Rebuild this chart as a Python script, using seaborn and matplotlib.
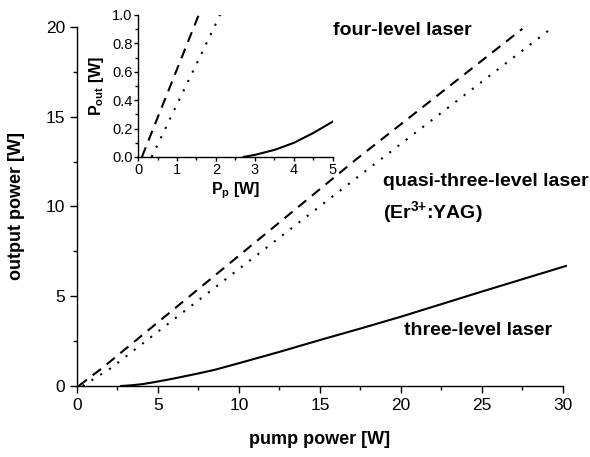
import matplotlib
matplotlib.use('Agg')
import matplotlib.pyplot as plt
import seaborn as sns
import pandas as pd
from matplotlib.ticker import MultipleLocator, FormatStrFormatter

# curves (pump power [W] -> output power [W])
four_x = [0.1, 1.6, 17.2, 27.5]
four_y = [0.0, 1.03, 12.6, 19.9]
quasi_x = [0.35, 2.07, 17.2, 29.4]
quasi_y = [0.0, 0.98, 11.55, 20.0]
three_x = [2.7, 3.0, 3.5, 4.0, 4.5, 5.0, 6.0, 7.5, 8.5, 10.0, 12.5, 15.0, 17.5, 20.0, 25.0, 30.2]
three_y = [0.0, 0.015, 0.05, 0.1, 0.17, 0.25, 0.42, 0.7, 0.9, 1.27, 1.9, 2.56, 3.2, 3.86, 5.26, 6.69]

df = pd.concat([
    pd.DataFrame({'pump': four_x, 'out': four_y, 'laser': 'four'}),
    pd.DataFrame({'pump': quasi_x, 'out': quasi_y, 'laser': 'quasi'}),
    pd.DataFrame({'pump': three_x, 'out': three_y, 'laser': 'three'}),
])

sns.set_theme(style='ticks')
plt.rcParams['font.family'] = ['Liberation Sans', 'DejaVu Sans']
plt.rcParams['mathtext.fontset'] = 'custom'
plt.rcParams['mathtext.rm'] = 'Liberation Sans'
plt.rcParams['mathtext.bf'] = 'Liberation Sans:bold'
plt.rcParams['text.color'] = 'black'
plt.rcParams['axes.labelcolor'] = 'black'

styles = {'four': (0, (5, 3.5)), 'quasi': (0, (1, 4)), 'three': '-'}


def draw(ax):
    for name, ls in styles.items():
        sns.lineplot(data=df[df['laser'] == name], x='pump', y='out', ax=ax,
                     color='black', lw=1.5, linestyle=ls, estimator=None,
                     sort=False, legend=False)
    for s in ['top', 'right']:
        ax.spines[s].set_visible(False)
    for s in ['left', 'bottom']:
        ax.spines[s].set_color('black')
        ax.spines[s].set_linewidth(1.0)
    ax.tick_params(which='both', direction='out', color='black', width=1.0,
                   labelcolor='black')
    ax.tick_params(which='major', length=5)
    ax.tick_params(which='minor', length=3)


fig = plt.figure(figsize=(5.9, 4.57), dpi=100)
ax = fig.add_axes([0.1305, 0.1554, 0.8235, 0.7855])
draw(ax)
ax.set_xlim(0, 30)
ax.set_ylim(0, 20)
ax.xaxis.set_major_locator(MultipleLocator(5))
ax.xaxis.set_minor_locator(MultipleLocator(2.5))
ax.yaxis.set_major_locator(MultipleLocator(5))
ax.yaxis.set_minor_locator(MultipleLocator(2.5))
ax.tick_params(labelsize=12.5)
for l in ax.get_lines():
    l.set_clip_on(False)
ax.set_xlabel('pump power [W]', fontsize=13, fontweight='bold', labelpad=13)
ax.set_ylabel('output power [W]', fontsize=13, fontweight='bold', labelpad=15)

ax.text(15.8, 19.8, 'four-level laser', fontsize=14, fontweight='bold', va='center')
ax.text(18.9, 11.4, 'quasi-three-level laser', fontsize=14, fontweight='bold', va='center')
ax.text(18.9, 9.65, r'(Er$^{\mathbf{3{+}}}$:YAG)', fontsize=14, fontweight='bold', va='center')
ax.text(20.2, 3.07, 'three-level laser', fontsize=14, fontweight='bold', va='center')

# inset
ins = fig.add_axes([0.2339, 0.6565, 0.3305, 0.3107])
draw(ins)
ins.set_xlim(0, 5)
ins.set_ylim(0, 1.0)
ins.xaxis.set_major_locator(MultipleLocator(1))
ins.xaxis.set_minor_locator(MultipleLocator(0.5))
ins.yaxis.set_major_locator(MultipleLocator(0.2))
ins.yaxis.set_minor_locator(MultipleLocator(0.1))
ins.yaxis.set_major_formatter(FormatStrFormatter('%.1f'))
ins.tick_params(labelsize=10.5, pad=1)
ins.tick_params(which='major', length=3)
ins.tick_params(which='minor', length=2)
ins.set_facecolor('none')
ins.set_xlabel(r'P$_{\mathbf{p}}$ [W]', fontsize=11.5, fontweight='bold', labelpad=3)
ins.set_ylabel(r'P$_{\mathbf{out}}$ [W]', fontsize=11.5, fontweight='bold', labelpad=4)

fig.savefig('out.png', dpi=100)
